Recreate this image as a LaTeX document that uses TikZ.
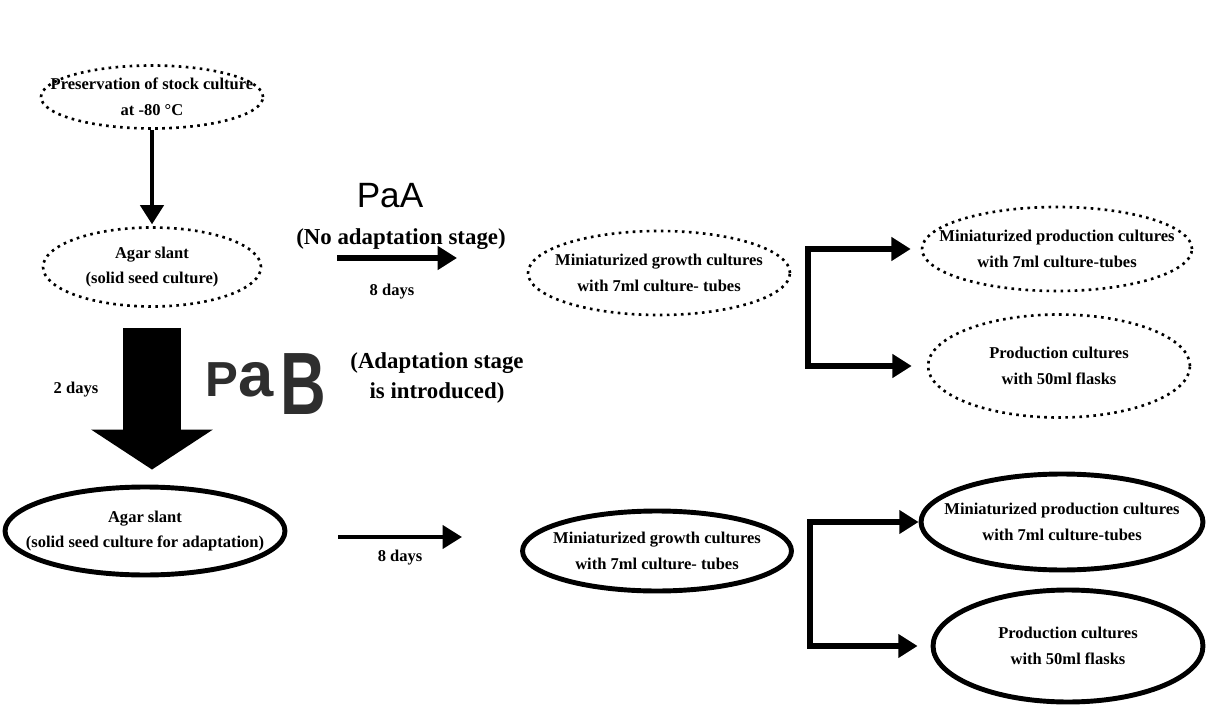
\documentclass[tikz,border=0pt]{standalone}
\usepackage{fontspec}
\setmainfont{Liberation Serif}
\newfontfamily\arialfont{Liberation Sans}
\usepackage{graphicx}
\usetikzlibrary{positioning, arrows.meta, shapes.geometric}
\tikzset{%
	heavy/.style = {line width = 3.4pt},
	>={Triangle[length = 11pt, width = 13pt]},
	stage/.style = {name = #1, ellipse, draw, line width = 1.5pt, dash pattern = on 1.5pt off 2.5pt, inner sep = 0pt},
	adapt/.style = {name = #1, ellipse, draw, line width = 2.8pt, inner sep = 0pt},
	lab/.style = {align = center, inner sep = 0pt, font = \bfseries\fontsize{9.4}{14.5}\selectfont},
	note/.style = {align = center, inner sep = 0pt, font = \bfseries\fontsize{13}{17.5}\selectfont},
	fat/.style = {line width = 1.16cm, -{Triangle[length = 0.8cm, width = 2.4cm]}}
}

\begin{document}
\begin{tikzpicture}[x=0.02cm, y=-0.02cm]
	\useasboundingbox (0,0) rectangle (1212,722);
	% route PaA
	\node [stage = {pres}, minimum width = 4.44cm, minimum height = 1.26cm, label = {[lab]center:Preservation of stock culture\\at -80 \textdegree C}] at (152,97) {};
	\node [stage = {agA}, minimum width = 4.36cm, minimum height = 1.58cm, label = {[lab]center:Agar slant\\(solid seed culture)}] at (152,267) {};
	\node [stage = {grA}, minimum width = 5.24cm, minimum height = 1.68cm, label = {[lab]center:Miniaturized growth cultures\\with 7ml culture- tubes}] at (659,273) {};
	\node [stage = {mpA}, minimum width = 5.4cm, minimum height = 1.68cm, label = {[lab]center:Miniaturized production cultures\\with 7ml culture-tubes}] at (1057,249) {};
	\node [stage = {pA}, minimum width = 5.24cm, minimum height = 2.06cm, label = {[lab]center:Production cultures\\with 50ml flasks}] at (1059,366) {};
	\node (paA) at (390,196) {\arialfont\fontsize{20}{20}\selectfont PaA};
	\node [note, anchor = base] (noadapt) at (401,245) {(No adaptation stage)};
	\node [lab] (dA) at (392,292) {8 days};
	\coordinate (a1) at (337,258);
	\coordinate (a2) at (457,258);
	\coordinate (forkA) at (808,307);
	\draw [line width = 2.8pt, ->, shorten >= 1pt] (pres) -- (agA);
	\draw [heavy, ->] (a1) -- (a2);
	\draw [heavy, ->, shorten >= 0.2cm] (forkA) |- (mpA.west);
	\draw [heavy, ->, shorten >= 0.3cm] (forkA) |- (pA.west);
	% route PaB
	\node [adapt = {agB}, minimum width = 5.6cm, minimum height = 1.76cm, label = {[lab]center:Agar slant\\(solid seed culture for adaptation)}] at (145,531) {};
	\node [adapt = {grB}, minimum width = 5.38cm, minimum height = 1.6cm, label = {[lab]center:Miniaturized growth cultures\\with 7ml culture- tubes}] at (657,551) {};
	\node [adapt = {mpB}, minimum width = 5.64cm, minimum height = 1.92cm, label = {[lab]center:Miniaturized production cultures\\with 7ml culture-tubes}] at (1062,522) {};
	\node [adapt = {pB}, minimum width = 5.4cm, minimum height = 2.24cm, label = {[lab]center:Production cultures\\with 50ml flasks}] at (1068,646) {};
	\node [lab] (dB) at (76,390) {2 days};
	\node [anchor = base west, inner sep = 0pt, text = black!82] (paB) at (205,397) {\arialfont\bfseries\fontsize{28}{28}\selectfont P\fontsize{36}{36}\selectfont a\hspace{4pt}\raisebox{-10pt}{\scalebox{1}[1.4]{B}}};
	\node [note] (adapt) at (437,378) {(Adaptation stage\\is introduced)};
	\node [lab] (dC) at (400,558) {8 days};
	\coordinate (b1) at (338,537);
	\coordinate (b2) at (462,537);
	\coordinate (forkB) at (810,582);
	\draw [fat, shorten <= 0.4cm, shorten >= 0.3cm] (agA.south) -- (agA.south |- agB.north);
	\draw [line width = 2.4pt, ->] (b1) -- (b2);
	\draw [heavy, ->] (forkB) |- (mpB.west);
	\draw [heavy, ->, shorten >= 0.26cm] (forkB) |- (pB.west);
\end{tikzpicture}
\end{document}
